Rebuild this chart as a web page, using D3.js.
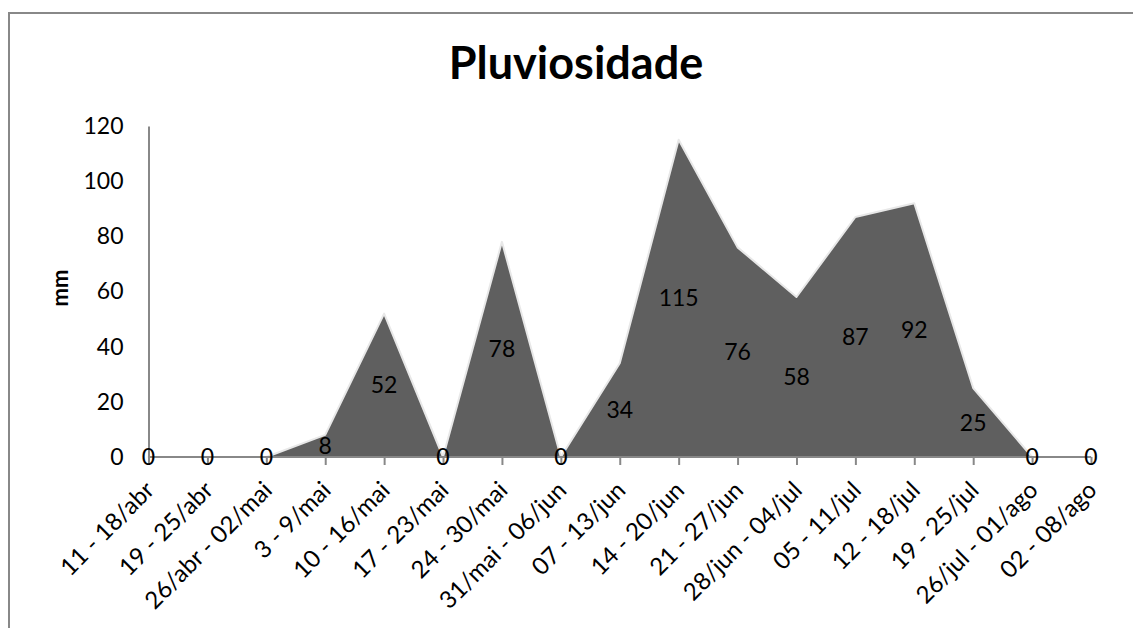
<!DOCTYPE html>
<html>
<head>
<meta charset="utf-8">
<script src="https://cdn.jsdelivr.net/npm/d3@7"></script>
<style>
  body { margin: 0; background: #fff; }
  text { font-family: Lato, "Open Sans", sans-serif; }
</style>
</head>
<body>
<div id="chart"></div>
<script>
var semanas = ['11 - 18/abr', '19 - 25/abr', '26/abr - 02/mai', '3 - 9/mai', '10 - 16/mai',
  '17 - 23/mai', '24 - 30/mai', '31/mai - 06/jun', '07 - 13/jun', '14 - 20/jun', '21 - 27/jun',
  '28/jun - 04/jul', '05 - 11/jul', '12 - 18/jul', '19 - 25/jul', '26/jul - 01/ago', '02 - 08/ago'];
var chuva = [0, 0, 0, 8, 52, 0, 78, 0, 34, 115, 76, 58, 87, 92, 25, 0, 0];
var yTicks = [0, 20, 40, 60, 80, 100, 120];

var W = 1133, H = 628;
var svg = d3.select('#chart').append('svg')
  .attr('width', W).attr('height', H);

// moldura
svg.append('rect')
  .attr('x', 9).attr('y', 13)
  .attr('width', 1140).attr('height', 640)
  .attr('fill', 'none').attr('stroke', '#888').attr('stroke-width', 2);

svg.append('text')
  .attr('x', 576).attr('y', 79)
  .attr('text-anchor', 'middle')
  .attr('font-size', 45).attr('font-weight', 'bold')
  .text('Pluviosidade');

var x = d3.scalePoint().domain(semanas).range([148.5, 1091]);
var y = d3.scaleLinear().domain([0, 120]).range([457, 126]);

var area = d3.area()
  .x(function (d, i) { return x(semanas[i]); })
  .y0(y(0))
  .y1(function (d) { return y(d); });

svg.append('path')
  .datum(chuva)
  .attr('d', area)
  .attr('fill', '#5f5f5f')
  .attr('stroke', '#e8e8e8')
  .attr('stroke-width', 2)
  .attr('stroke-linejoin', 'round');

// eixo y
var yAxis = svg.append('g')
  .attr('transform', 'translate(' + x(semanas[0]) + ',0)')
  .call(d3.axisLeft(y).tickValues(yTicks).tickSize(0).tickPadding(25));
yAxis.select('.domain').attr('stroke', '#888').attr('stroke-width', 2);
yAxis.selectAll('text').attr('font-size', 23).attr('fill', '#000')
  .attr('font-family', 'Lato, sans-serif');

// eixo x
var xAxis = svg.append('g')
  .attr('transform', 'translate(0,' + y(0) + ')')
  .call(d3.axisBottom(x).tickSize(8).tickPadding(0));
xAxis.select('.domain').attr('stroke', '#888').attr('stroke-width', 2)
  .attr('d', 'M' + x(semanas[0]) + ',0H' + x(semanas[semanas.length - 1]));
xAxis.selectAll('.tick line').attr('stroke', '#888').attr('stroke-width', 2);
xAxis.selectAll('text')
  .attr('font-size', 24).attr('fill', '#000')
  .attr('font-family', 'Lato, sans-serif')
  .attr('text-anchor', 'end')
  .attr('dy', 0)
  .attr('transform', 'translate(1,29) rotate(-45)');

svg.append('text')
  .attr('transform', 'translate(68,288) rotate(-90)')
  .attr('text-anchor', 'middle')
  .attr('font-size', 22).attr('font-weight', 'bold')
  .text('mm');

// rotulos de dados
svg.append('g').selectAll('text')
  .data(chuva)
  .enter().append('text')
  .attr('x', function (d, i) { return x(semanas[i]); })
  .attr('y', function (d) { return y(d / 2); })
  .attr('dy', '0.35em')
  .attr('text-anchor', 'middle')
  .attr('font-size', 23)
  .text(function (d) { return d; });
</script>
</body>
</html>
